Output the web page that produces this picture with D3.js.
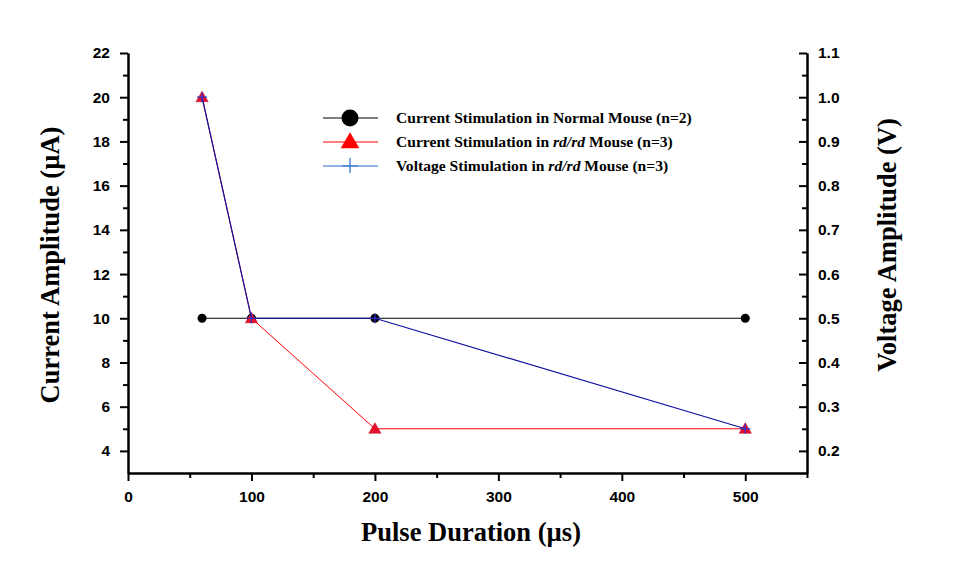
<!DOCTYPE html>
<html><head><meta charset="utf-8">
<script src="https://cdn.jsdelivr.net/npm/d3@7"></script>
<style>body{margin:0;background:#fff}</style>
</head><body>
<svg id="c" width="960" height="588"></svg>
<script>
const durations = [60, 100, 200, 500];
const normalCurrent = [10, 10, 10, 10];
const rdCurrent = [20, 10, 5, 5];
const rdVoltage = [1.0, 0.5, 0.5, 0.25];
const xTicks = [0, 100, 200, 300, 400, 500];
const yLeftTicks = [4, 6, 8, 10, 12, 14, 16, 18, 20, 22];
const yRightTicks = [0.2, 0.3, 0.4, 0.5, 0.6, 0.7, 0.8, 0.9, 1.0, 1.1];
const legendLabels = [
  ["Current Stimulation in Normal Mouse (n=2)"],
  ["Current Stimulation in ", "rd/rd", " Mouse (n=3)"],
  ["Voltage Stimulation in ", "rd/rd", " Mouse (n=3)"]
];

const svg = d3.select("#c");
const L = 128, R = 807, T = 53, B = 473;
const x = d3.scaleLinear().domain([0, 550]).range([L, R]);
const yL = d3.scaleLinear().domain([3, 22]).range([B, T]);
const yR = d3.scaleLinear().domain([0.15, 1.1]).range([B, T]);

const tickFont = "bold 15.5px 'Liberation Sans', Arial, sans-serif";
const titleFont = "'Liberation Serif', 'Times New Roman', serif";

function styleAxis(g) {
  g.selectAll("path").attr("stroke", "#000").attr("stroke-width", 2);
  g.selectAll("line").attr("stroke", "#000").attr("stroke-width", 2);
  g.selectAll("text").style("font", tickFont).attr("fill", "#000");
}

const xMinor = d3.range(50, 551, 100);
const yLMinor = d3.range(5, 22, 2);
const yRMinor = yLMinor.map(v => v / 20);

svg.append("g").attr("transform", `translate(0,${B})`)
  .call(d3.axisBottom(x).tickValues(xMinor).tickSize(5).tickFormat("").tickSizeOuter(0))
  .call(styleAxis);
svg.append("g").attr("transform", `translate(0,${B})`)
  .call(d3.axisBottom(x).tickValues(xTicks).tickSize(8).tickPadding(10).tickFormat(d3.format("d")).tickSizeOuter(0))
  .call(styleAxis);

svg.append("g").attr("transform", `translate(${L},0)`)
  .call(d3.axisLeft(yL).tickValues(yLMinor).tickSize(5).tickFormat("").tickSizeOuter(0))
  .call(styleAxis);
svg.append("g").attr("transform", `translate(${L},0)`)
  .call(d3.axisLeft(yL).tickValues(yLeftTicks).tickSize(8).tickPadding(10).tickFormat(d3.format("d")).tickSizeOuter(0))
  .call(styleAxis);

svg.append("g").attr("transform", `translate(${R},0)`)
  .call(d3.axisRight(yR).tickValues(yRMinor).tickSize(-5).tickFormat("").tickSizeOuter(0))
  .call(styleAxis);
svg.append("g").attr("transform", `translate(${R},0)`)
  .call(d3.axisRight(yR).tickValues(yRightTicks).tickSize(-8).tickPadding(11).tickFormat(d3.format(".1f")).tickSizeOuter(0))
  .call(styleAxis);

// titles
svg.append("text").attr("x", 471).attr("y", 541).attr("text-anchor", "middle")
  .style("font-family", titleFont).style("font-weight", "bold").style("font-size", "26.5px")
  .text("Pulse Duration (\u00b5s)");
svg.append("text").attr("transform", `translate(59,265) rotate(-90)`).attr("text-anchor", "middle")
  .style("font-family", titleFont).style("font-weight", "bold").style("font-size", "26.5px")
  .text("Current Amplitude (\u00b5A)");
svg.append("text").attr("transform", `translate(896,245) rotate(-90)`).attr("text-anchor", "middle")
  .style("font-family", titleFont).style("font-weight", "bold").style("font-size", "26.5px")
  .text("Voltage Amplitude (V)");

// series
const idx = d3.range(durations.length);
const black = "#000", red = "#ff0000", blue = "#1010a0";

svg.append("path").attr("d", d3.line().x(i => x(durations[i])).y(i => yL(normalCurrent[i]))(idx))
  .attr("fill", "none").attr("stroke", black).attr("stroke-width", 1);
svg.selectAll(".c1").data(idx).enter().append("circle")
  .attr("cx", i => x(durations[i])).attr("cy", i => yL(normalCurrent[i])).attr("r", 4.5).attr("fill", black);

svg.append("path").attr("d", d3.line().x(i => x(durations[i])).y(i => yL(rdCurrent[i]))(idx))
  .attr("fill", "none").attr("stroke", red).attr("stroke-width", 1);
const tri = d3.symbol().type(d3.symbolTriangle).size(65);
svg.selectAll(".t1").data(idx).enter().append("path")
  .attr("d", tri).attr("transform", i => `translate(${x(durations[i])},${yL(rdCurrent[i]) + 1})`)
  .attr("fill", "#e8102a").attr("stroke", "#b0102a").attr("stroke-width", 0.5);

svg.append("path").attr("d", d3.line().x(i => x(durations[i])).y(i => yR(rdVoltage[i]))(idx))
  .attr("fill", "none").attr("stroke", blue).attr("stroke-width", 1.2);
svg.selectAll(".p1").data(idx).enter().append("path")
  .attr("d", i => { const cx = x(durations[i]), cy = yR(rdVoltage[i]); return `M${cx-5},${cy}H${cx+5}M${cx},${cy-5}V${cy+5}`; })
  .attr("stroke", "#3030d0").attr("stroke-width", 1.2);

// legend
const lg = svg.append("g");
const rows = [118, 142, 166];
const lcol = [black, red, "#2a6ad0"];
rows.forEach((ry, k) => {
  lg.append("line").attr("x1", 323).attr("x2", 378).attr("y1", ry).attr("y2", ry).attr("stroke", lcol[k]).attr("stroke-width", 1.2);
});
lg.append("circle").attr("cx", 350).attr("cy", rows[0]).attr("r", 8.5).attr("fill", black);
lg.append("path").attr("d", d3.symbol().type(d3.symbolTriangle).size(150)).attr("transform", `translate(350,${rows[1] + 1})`).attr("fill", red);
lg.append("path").attr("d", `M342,${rows[2]}H358M350,${rows[2]-8}V${rows[2]+7}`).attr("stroke", "#2a6ad0").attr("stroke-width", 1.2);
legendLabels.forEach((parts, k) => {
  const t = lg.append("text").attr("x", 396).attr("y", rows[k] + 4.5)
    .style("font-family", titleFont).style("font-weight", "bold").style("font-size", "15.6px");
  parts.forEach((p, j) => t.append("tspan").text(p).style("font-style", j === 1 ? "italic" : "normal"));
});
</script>
</body></html>
